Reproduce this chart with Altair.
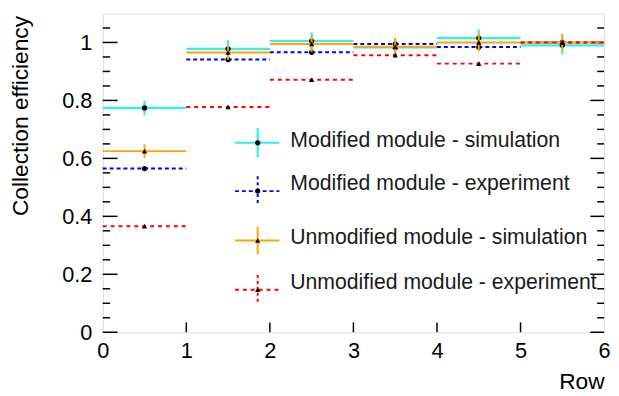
import altair as alt
import pandas as pd

# ---------------- data ----------------
rows = [0, 1, 2, 3, 4, 5]
mod_sim = [0.774, 0.978, 1.005, 0.983, 1.015, 0.990]
mod_sim_err = [0.025, 0.030, 0.030, 0.030, 0.030, 0.030]
mod_exp = [0.565, 0.941, 0.966, 0.995, 0.984, 1.000]
mod_exp_err = [0.005, 0.005, 0.005, 0.005, 0.005, 0.005]
unmod_sim = [0.625, 0.965, 0.995, 0.985, 1.000, 1.000]
unmod_sim_err = [0.024, 0.025, 0.028, 0.030, 0.030, 0.030]
unmod_exp = [0.366, 0.777, 0.871, 0.956, 0.927, 1.000]
unmod_exp_err = [0.005, 0.005, 0.005, 0.005, 0.005, 0.005]

series_names = [
    "Modified module - simulation",
    "Modified module - experiment",
    "Unmodified module - simulation",
    "Unmodified module - experiment",
]
series_values = [mod_sim, mod_exp, unmod_sim, unmod_exp]
series_errors = [mod_sim_err, mod_exp_err, unmod_sim_err, unmod_exp_err]

y_major = [0, 0.2, 0.4, 0.6, 0.8, 1.0]
y_minor = [0.05, 0.1, 0.15, 0.25, 0.3, 0.35, 0.45, 0.5, 0.55, 0.65, 0.7, 0.75,
           0.85, 0.9, 0.95, 1.05]
x_major = [0, 1, 2, 3, 4, 5, 6]

# ---------------- styles ----------------
colors = ["#2af2f2", "#0000ff", "#ffa500", "#ff0000"]
dashes = [[1, 0], [4, 3], [1, 0], [4, 4]]
vdashes = [[1, 0], [3, 3], [1, 0], [3, 3]]
shapes = ["circle", "circle", "triangle-up", "triangle-up"]
widths = [2.2, 2, 2, 2]

W, H = 508, 323
FONT = "Liberation Sans"

xs = alt.Scale(domain=[0, 6], nice=False, zero=False)
ys = alt.Scale(domain=[0, 1.1], nice=False, zero=False)

xaxis = alt.Axis(values=x_major, format="d", title="Row", grid=False, ticks=False,
                 domain=False, labelFontSize=22, labelPadding=9, labelFont=FONT,
                 labelColor="black", titleFont=FONT, titleFontSize=23,
                 titleFontWeight="normal", titleColor="black", titleAlign="right",
                 titleAnchor="end", titleX=W, titleY=50, titleBaseline="middle",
                 labelFlush=False, labelOverlap=False)
yaxis = alt.Axis(values=y_major, format="~g", title="Collection efficiency", grid=False,
                 ticks=False, domain=False, labelFontSize=22, labelPadding=11,
                 labelFont=FONT, labelColor="black", titleFont=FONT, titleFontSize=23,
                 titleFontWeight="normal", titleColor="black", titleAngle=270,
                 titleAlign="right", titleBaseline="middle", titleX=-83, titleY=2,
                 labelFlush=False, labelOverlap=False)

layers = []

# ticks (inside the frame)
ymaj = pd.DataFrame({"t": y_major})
ymin = pd.DataFrame({"t": y_minor})
xmaj = pd.DataFrame({"t": x_major[1:-1]})

def ytick(df, x0, x1):
    return alt.Chart(df).mark_rule(color="black", strokeWidth=1.5).encode(
        x=alt.value(x0), x2=alt.value(x1),
        y=alt.Y("t:Q", scale=ys, axis=yaxis))

layers.append(ytick(ymaj, 0, 15))
layers.append(ytick(ymin, 0, 7.5))
layers.append(ytick(ymaj, W, W - 14))
layers.append(ytick(ymin, W, W - 7))
layers.append(alt.Chart(xmaj).mark_rule(color="black", strokeWidth=1.5).encode(
    x=alt.X("t:Q", scale=xs, axis=xaxis),
    y=alt.value(H), y2=alt.value(H - 10)))

# series
for name, vals, errs, col, dsh, vd, shp, sw in zip(series_names, series_values, series_errors,
                                                  colors, dashes, vdashes, shapes, widths):
    df = pd.DataFrame({
        "lo": rows,
        "hi": [r + 1 for r in rows],
        "mid": [r + 0.5 for r in rows],
        "val": vals,
        "low": [v - e for v, e in zip(vals, errs)],
        "high": [v + e for v, e in zip(vals, errs)],
    })
    base = alt.Chart(df)
    layers.append(base.mark_rule(color=col, strokeWidth=sw, strokeDash=dsh).encode(
        x=alt.X("lo:Q", scale=xs, axis=xaxis), x2="hi:Q",
        y=alt.Y("val:Q", scale=ys, axis=yaxis)))
    layers.append(base.mark_rule(color=col, strokeWidth=sw, strokeDash=vd).encode(
        x=alt.X("mid:Q", scale=xs, axis=xaxis),
        y=alt.Y("low:Q", scale=ys, axis=yaxis), y2="high:Q"))
    layers.append(base.mark_point(shape=shp, filled=True, color="black", size=28, opacity=1).encode(
        x=alt.X("mid:Q", scale=xs, axis=xaxis),
        y=alt.Y("val:Q", scale=ys, axis=yaxis)))

# legend (manual, pixel positions)
leg_line_y = [131, 180, 230, 280]
leg_text_y = [129, 173, 228, 273]
leg_vhalf = [15, 15, 14, 15]
lx0, lx1, lxc, ltx = 134, 179, 157, 190
one = pd.DataFrame({"a": [0]})
for i, name in enumerate(series_names):
    c = alt.Chart(one)
    layers.append(c.mark_rule(color=colors[i], strokeWidth=widths[i], strokeDash=dashes[i]).encode(
        x=alt.value(lx0), x2=alt.value(lx1), y=alt.value(leg_line_y[i])))
    layers.append(c.mark_rule(color=colors[i], strokeWidth=widths[i], strokeDash=vdashes[i]).encode(
        x=alt.value(lxc), y=alt.value(leg_line_y[i] - leg_vhalf[i]),
        y2=alt.value(leg_line_y[i] + leg_vhalf[i])))
    layers.append(c.mark_point(shape=shapes[i], filled=True, color="black", size=28, opacity=1).encode(
        x=alt.value(lxc), y=alt.value(leg_line_y[i])))
    layers.append(c.mark_text(text=name, align="left", baseline="middle", font=FONT,
                              fontSize=21.5, color="#1a1a1a").encode(
        x=alt.value(ltx), y=alt.value(leg_text_y[i])))

chart = alt.layer(*layers).properties(
    width=W, height=H,
    autosize=alt.AutoSizeParams(type="none"),
    padding={"left": 96, "top": 3, "right": 7, "bottom": 59},
).configure_view(stroke="black", strokeWidth=2).configure(background="white")

chart.save("out.html", embed_options={"renderer": "svg", "actions": False})
